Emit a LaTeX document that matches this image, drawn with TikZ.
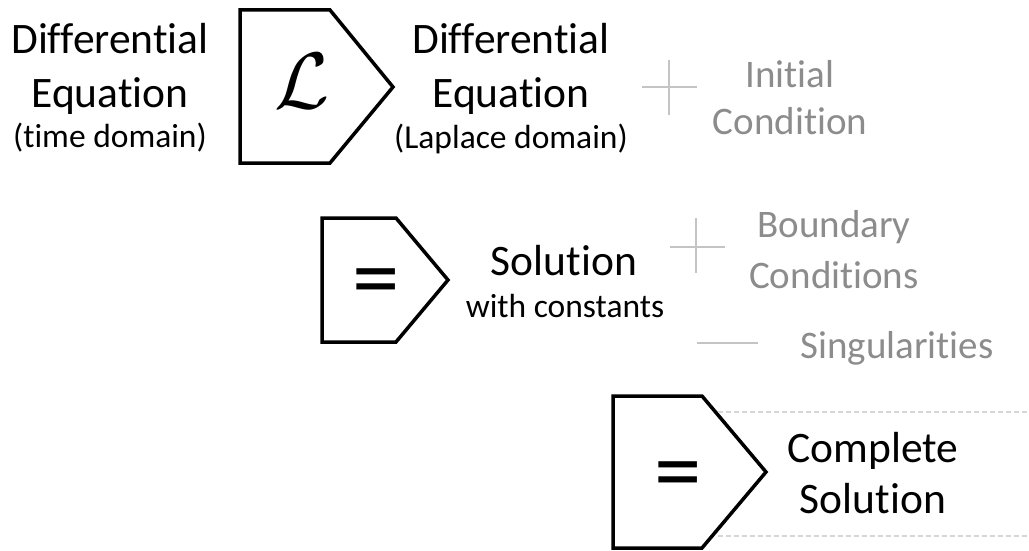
\documentclass[tikz,border=0pt]{standalone}
\usepackage{fontspec}
\setmainfont{Carlito}[Ligatures=CommonOff]
\begin{document}
\begin{tikzpicture}[x=1pt,y=-1pt,
  bigtxt/.style={font=\fontsize{43.5}{50}\selectfont, inner sep=0pt, anchor=base},
  smalltxt/.style={font=\fontsize{33.5}{40}\selectfont, inner sep=0pt, anchor=base},
  graytxt/.style={font=\fontsize{39}{47}\selectfont, text=grayT, inner sep=0pt, anchor=base},
  pent/.style={draw=black, line width=3.5pt, line join=miter},
  opsign/.style={draw=grayL, line width=2pt},
  guide/.style={draw=grayD, line width=1.2pt, dash pattern=on 5pt off 3pt},
  eqsign/.style={font=\fontsize{95}{100}\selectfont, inner sep=0pt}
]
\definecolor{grayT}{HTML}{8C8C8C}
\definecolor{grayL}{HTML}{C4C4C4}
\definecolor{grayD}{HTML}{D6D6D6}
\useasboundingbox (0,0) rectangle (1029,551);

% pentagons
\draw[pent] (240,10) -- (330,10) -- (393,87) -- (330,163) -- (240,163) -- cycle;
\draw[pent] (322,218) -- (396,218) -- (448,280) -- (396,342) -- (322,342) -- cycle;
\draw[pent] (613,396) -- (702,396) -- (766,472) -- (702,548) -- (613,548) -- cycle;

% operators inside pentagons
\node[scale=8, inner sep=0pt] (lap) at (302,81) {$\mathcal{L}$};
\node[eqsign] (eq1) at (376,289) {=};
\node[eqsign] (eq2) at (678,482) {=};

% left block
\node[bigtxt] (de1a) at (110,54) {Differential};
\node[bigtxt] (de1b) at (110,107) {Equation};
\node[smalltxt] (de1c) at (110,147) {(time domain)};

% right block
\node[bigtxt] (de2a) at (511,54) {Differential};
\node[bigtxt] (de2b) at (511,107) {Equation};
\node[smalltxt] (de2c) at (511,148) {(Laplace domain)};

% initial condition
\draw[opsign] (642,87) -- (697,87) (669,60) -- (669,115);
\node[graytxt] (ic1) at (790,88) {Initial};
\node[graytxt] (ic2) at (790,135) {Condition};

% solution with constants
\node[bigtxt] (sol1) at (564,275) {Solution};
\node[smalltxt] (sol2) at (565,317) {with constants};

% boundary conditions
\draw[opsign] (670,247) -- (725,247) (696,218) -- (696,273);
\node[graytxt] (bc1) at (834,237) {Boundary};
\node[graytxt] (bc2) at (834,288) {Conditions};

% singularities
\draw[opsign] (697,343) -- (758,343);
\node[graytxt] (sg) at (897,358) {Singularities};

% complete solution
\draw[guide] (718,412) -- (1029,412);
\draw[guide] (718,536) -- (1029,536);
\node[bigtxt] (cs1) at (873,462) {Complete};
\node[bigtxt] (cs2) at (873,513) {Solution};
\end{tikzpicture}
\end{document}
